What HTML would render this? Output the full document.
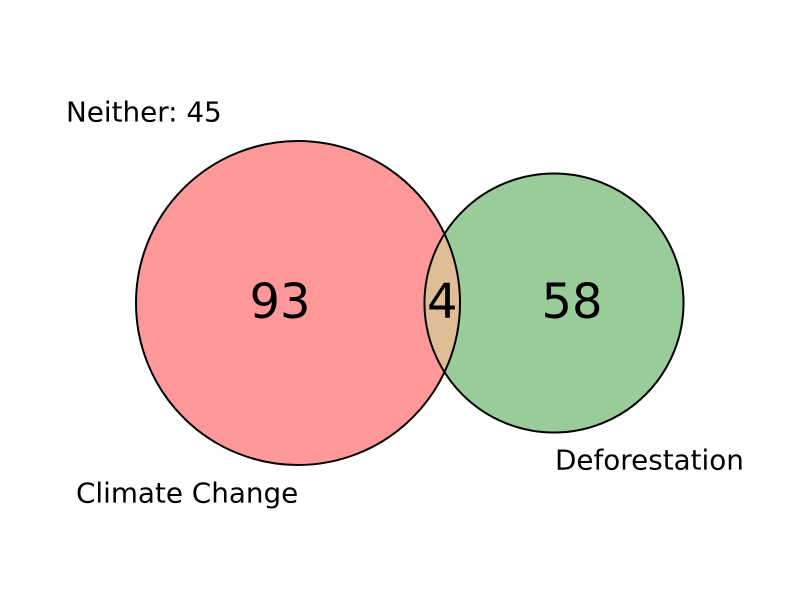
<!DOCTYPE html>
<html>
<head>
<meta charset="utf-8">
<style>
html,body{margin:0;padding:0;background:#fff;}
svg{display:block;}
text{font-family:"DejaVu Sans","Liberation Sans",sans-serif;fill:#000;}
</style>
</head>
<body>
<svg id="chart" width="800" height="600" viewBox="0 0 800 600">
  <defs>
    <clipPath id="clipLeft"><circle id="clipCircle" cx="0" cy="0" r="0"/></clipPath>
  </defs>
  <g id="marks"></g>
</svg>
<script>
const setNames = ["Climate Change", "Deforestation"];
const onlyCounts = [93, 58];
const overlapCounts = [4];
const neitherCounts = [45];

const NS = "http://www.w3.org/2000/svg";
const svg = document.getElementById("chart");
const g = document.getElementById("marks");
const cy = 303;
const k = 162 / Math.sqrt(97);
const rA = k * Math.sqrt(onlyCounts[0] + overlapCounts[0]);
const rB = k * Math.sqrt(onlyCounts[1] + overlapCounts[0]);
const cxA = 298;
const cxB = cxA + 256;

function el(tag, attrs) {
  const e = document.createElementNS(NS, tag);
  for (const key in attrs) e.setAttribute(key, attrs[key]);
  return e;
}

const cA = el("circle", {cx: cxA, cy: cy, r: rA, fill: "#ff9999"});


g.appendChild(cA);
const cB = el("circle", {cx: cxB, cy: cy, r: rB, fill: "#99cc99"});


g.appendChild(cB);

const cc = document.getElementById("clipCircle");
cc.setAttribute("cx", cxA); cc.setAttribute("cy", cy); cc.setAttribute("r", rA);
const ov = el("circle", {cx: cxB, cy: cy, r: rB, fill: "#dfbe96", "clip-path": "url(#clipLeft)"});


g.appendChild(ov);

const oA = el("circle", {cx: cxA, cy: cy, r: rA, fill: "none", stroke: "#000", "stroke-width": 2});


g.appendChild(oA);
const oB = el("circle", {cx: cxB, cy: cy, r: rB, fill: "none", stroke: "#000", "stroke-width": 2});


g.appendChild(oB);

function txt(x, y, s, size, anchor, name) {
  const t = el("text", {x: x, y: y, "font-size": size, "text-anchor": anchor, "dominant-baseline": "central"});
  t.textContent = s;
  
  
  svg.appendChild(t);
}
const leftEdgeB = cxB - rB, rightEdgeA = cxA + rA;
txt(280, 302, String(onlyCounts[0]), 48, "middle", "count-climate-change-only");
txt((leftEdgeB + rightEdgeA) / 2, 302, String(overlapCounts[0]), 48, "middle", "count-overlap");
txt(572, 302, String(onlyCounts[1]), 48, "middle", "count-deforestation-only");
txt(66, 112, "Neither: " + neitherCounts[0], 27.8, "start", "neither-label");
txt(76, 493, setNames[0], 27.8, "start", "label-climate-change");
txt(555, 460, setNames[1], 27.8, "start", "label-deforestation");
</script>
</body>
</html>
